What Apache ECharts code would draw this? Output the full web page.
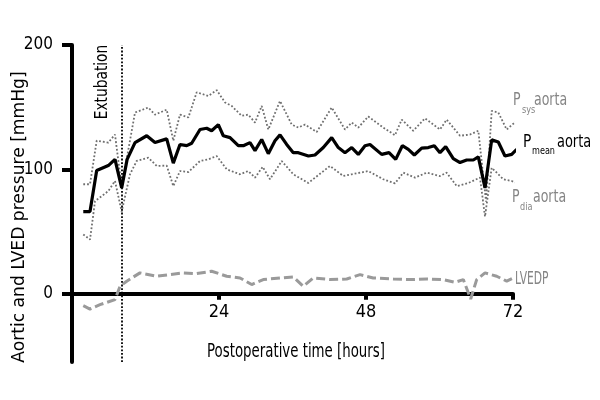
<!DOCTYPE html>
<html>
<head>
<meta charset="utf-8">
<script src="https://cdn.jsdelivr.net/npm/echarts@6/dist/echarts.min.js"></script>
<style>html,body{margin:0;padding:0;background:#fff;}#c{width:600px;height:400px;}</style>
</head>
<body>
<div id="c"></div>
<script>
// ---- data ----
const xTicks = [24, 48, 72];
const yTicks = [0, 100, 200];
const extubationHour = 8.2;

const meanHours = [1.84,2.94,4.03,5.93,7.02,8.11,9.0,10.29,12.2,13.55,15.46,16.54,17.63,18.73,19.54,20.9,21.99,22.8,23.89,24.7,25.8,27.15,27.97,29.06,29.88,30.97,32.05,33.14,33.96,35.05,36.13,36.95,38.6,39.67,41.03,42.4,43.48,44.57,45.67,46.74,47.84,48.65,50.56,51.76,52.85,53.93,54.91,55.89,57.09,58.17,59.15,60.08,61.01,62.25,63.35,64.44,65.52,66.34,67.43,68.52,69.6,70.69,71.79,72.6,73.42,74.5];
const meanValues = [66,66,99,103,108,85,108,121.5,127,121.5,124.5,105,120,119,121,132,133,131,136,127,125.5,119,119,121.5,115,124,112.6,123,127.7,120,113.4,113.4,110.7,111.5,117.5,125.5,117.5,113.4,117.5,112,119,120,112,113.4,108,119,116,111.5,117,117.5,119,113.4,118.3,108.6,105.4,107.5,107.5,110,85,123.7,122,110.7,112,116,106.7,113.4];

const sysHours = [1.84,2.94,4.03,5.93,7.02,8.11,10.29,12.46,13.55,15.46,16.54,17.63,19.0,20.36,22.25,23.62,24.98,26.07,27.7,28.78,29.88,30.97,32.05,33.96,35.87,36.95,38.04,39.95,42.4,44.57,45.67,46.74,48.37,50.82,52.73,53.83,55.72,57.63,60.08,61.17,63.35,64.98,66.34,67.6,68.52,69.6,70.97,72.6,73.42,74.5];
const sysValues = [88,88,123,121.5,128,86,145.7,149.7,144,148,123,144,141.7,162,159,163.7,153.8,151,143,144,137.6,151,132,155,136,133.6,136,130,149.7,132,137.6,133.6,142.5,133.6,127.4,140,131,141,132,140,127,128,131,74,147,145.7,132,139,133.6,135];

const diaHours = [1.84,2.94,3.76,5.93,7.02,8.11,9.47,10.56,12.46,13.83,15.46,16.54,17.63,19.0,20.9,22.25,23.62,25.26,27.43,28.78,29.88,31.13,32.33,34.24,36.13,38.58,42.12,44.29,45.67,48.37,50.82,52.73,54.09,56.0,57.91,60.08,61.17,62.81,64.7,66.61,67.43,68.52,70.42,71.79,73.14,74.24];
const diaValues = [47.6,43.5,74.4,82.5,90.6,66,96,106.7,109.4,102.7,103,86.5,98.6,97.8,106.7,108,110.7,100,96,98.6,93.3,102,92,106.7,96,89,102.7,94.6,96,98.6,92,88.7,97.3,93.3,97.3,94.6,97.3,86.5,89,93.3,62,101.3,92,90.6,88,90.6];

const lvedpHours = [1.84,2.94,4.57,7.02,7.84,8.93,11.1,13.83,16.0,18.17,20.36,22.8,25.26,27.43,29.34,31.23,33.96,36.13,37.76,39.4,42.12,44.85,47.02,49.19,52.46,55.18,57.91,60.62,62.53,63.89,65.09,66.07,67.43,69.34,70.97,72.08];
const lvedpValues = [-9.7,-12.4,-8.9,-4.8,5.9,10,16.7,14,15.3,16.7,16.1,18,14,12.6,7.3,11.3,12.6,13.4,5.9,12.6,11.3,11.8,15.3,12.6,11.8,11.3,11.8,11.3,9.1,11.3,-4.3,11.3,16.7,14,10,12.6];

// ---- chart ----
const zip = (xs, ys) => xs.map((x, i) => [x, ys[i]]);
const FONT = "'DejaVu Sans Condensed','DejaVu Sans',sans-serif";
const GRAY = '#858585';
const DOT = '#6f6f6f';
const Y_MIN = -55, Y_MAX = 200;
const GRID_TOP = 45, GRID_H = 317;
const zeroHeight = GRID_H * (Y_MAX / (Y_MAX - Y_MIN)); // x axis sits on y = 0

const chart = echarts.init(document.getElementById('c'), null, {renderer: 'canvas'});
chart.setOption({
  animation: false,
  backgroundColor: '#fff',
  grid: [
    {left: 72, right: 87, top: GRID_TOP, height: GRID_H, containLabel: false, outerBoundsMode: 'none'},
    {left: 72, right: 87, top: GRID_TOP, height: zeroHeight, containLabel: false, outerBoundsMode: 'none'}
  ],
  xAxis: [
    {gridIndex: 0, type: 'value', min: 0, max: 72, show: false},
    {
      gridIndex: 1, type: 'value', min: 0, max: 72, position: 'bottom',
      splitLine: {show: false},
      axisLine: {onZero: false, lineStyle: {color: '#000', width: 4}},
      axisTick: {show: true, length: 6, lineStyle: {color: '#000', width: 4}, customValues: xTicks},
      axisLabel: {show: true, customValues: xTicks, color: '#000', fontFamily: FONT, fontSize: 18, margin: 10}
    }
  ],
  yAxis: [
    {
      gridIndex: 0, type: 'value', min: Y_MIN, max: Y_MAX,
      splitLine: {show: false},
      axisLine: {show: true, onZero: false, lineStyle: {color: '#000', width: 4}},
      axisTick: {show: true, length: 10, lineStyle: {color: '#000', width: 4}, customValues: yTicks},
      axisLabel: {show: true, customValues: yTicks, color: '#000', fontFamily: FONT, fontSize: 17, margin: 19}
    },
    {gridIndex: 1, type: 'value', min: 0, max: 200, show: false}
  ],
  series: [
    {
      name: 'LVEDP', type: 'line', symbol: 'none', clip: false, z: 3,
      data: zip(lvedpHours, lvedpValues),
      lineStyle: {color: '#9a9a9a', width: 3, type: [9, 4]}
    },
    {
      name: 'Psys', type: 'line', symbol: 'none', clip: false,
      data: zip(sysHours, sysValues),
      lineStyle: {color: DOT, width: 1.8, type: [1.8, 2]}
    },
    {
      name: 'Pdia', type: 'line', symbol: 'none', clip: false,
      data: zip(diaHours, diaValues),
      lineStyle: {color: DOT, width: 1.8, type: [1.8, 2]}
    },
    {
      name: 'Pmean', type: 'line', symbol: 'none', clip: false,
      data: zip(meanHours, meanValues),
      lineStyle: {color: '#000', width: 3.2},
      markLine: {
        silent: true, symbol: 'none', label: {show: false},
        lineStyle: {color: '#000', width: 1.8, type: [1.8, 1.8]},
        data: [{xAxis: extubationHour}]
      }
    }
  ],
  graphic: [
    {type: 'text', x: 19.5, y: 217, rotation: Math.PI / 2, scaleX: 1.12,
     style: {text: 'Aortic and LVED pressure [mmHg]', font: '17px ' + FONT, fill: '#000', align: 'center', verticalAlign: 'middle'}},
    {type: 'text', x: 296, y: 352, scaleX: 0.78,
     style: {text: 'Postoperative time [hours]', font: '19px ' + FONT, fill: '#000', align: 'center', verticalAlign: 'middle'}},
    {type: 'text', x: 103, y: 82, rotation: Math.PI / 2, scaleX: 0.9,
     style: {text: 'Extubation', font: '17px ' + FONT, fill: '#000', align: 'center', verticalAlign: 'middle'}},
    // Psys aorta
    {type: 'text', x: 513, y: 101, scaleX: 0.82, style: {text: 'P', font: '17px ' + FONT, fill: GRAY, align: 'left', verticalAlign: 'middle'}},
    {type: 'text', x: 522, y: 110, scaleX: 0.82, style: {text: 'sys', font: '11px ' + FONT, fill: GRAY, align: 'left', verticalAlign: 'middle'}},
    {type: 'text', x: 534, y: 101, scaleX: 0.82, style: {text: 'aorta', font: '17px ' + FONT, fill: GRAY, align: 'left', verticalAlign: 'middle'}},
    // Pmean aorta
    {type: 'text', x: 523, y: 142, scaleX: 0.85, style: {text: 'P', font: '18px ' + FONT, fill: '#000', align: 'left', verticalAlign: 'middle'}},
    {type: 'text', x: 532, y: 151, scaleX: 0.82, style: {text: 'mean', font: '11px ' + FONT, fill: '#000', align: 'left', verticalAlign: 'middle'}},
    {type: 'text', x: 557, y: 142, scaleX: 0.8, style: {text: 'aorta', font: '18px ' + FONT, fill: '#000', align: 'left', verticalAlign: 'middle'}},
    // Pdia aorta
    {type: 'text', x: 512, y: 198, scaleX: 0.82, style: {text: 'P', font: '17px ' + FONT, fill: GRAY, align: 'left', verticalAlign: 'middle'}},
    {type: 'text', x: 520, y: 207, scaleX: 0.82, style: {text: 'dia', font: '11px ' + FONT, fill: GRAY, align: 'left', verticalAlign: 'middle'}},
    {type: 'text', x: 533, y: 198, scaleX: 0.82, style: {text: 'aorta', font: '17px ' + FONT, fill: GRAY, align: 'left', verticalAlign: 'middle'}},
    // LVEDP
    {type: 'text', x: 515, y: 280, scaleX: 0.7, style: {text: 'LVEDP', font: '17px ' + FONT, fill: GRAY, align: 'left', verticalAlign: 'middle'}}
  ]
});
</script>
</body>
</html>
